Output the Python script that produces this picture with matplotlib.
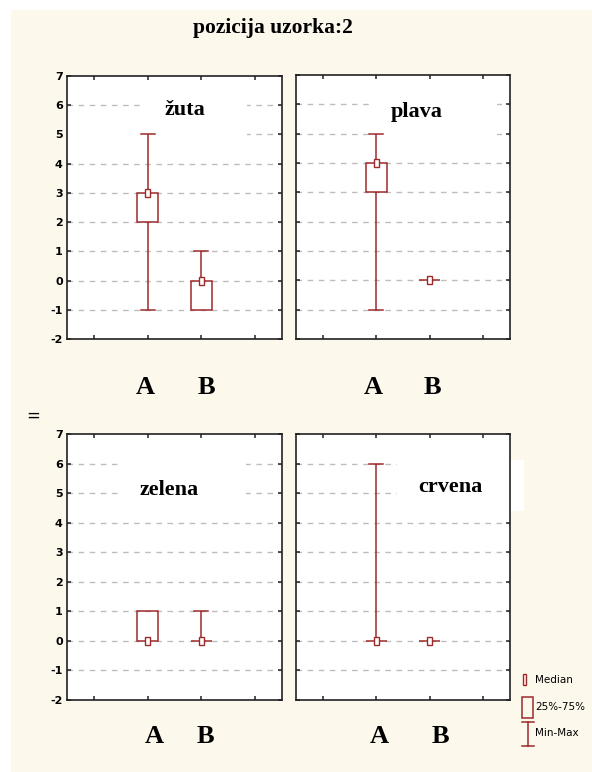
import matplotlib
matplotlib.use('Agg')
import matplotlib.pyplot as plt
import matplotlib.patches as mpatches
from matplotlib.lines import Line2D
from matplotlib import font_manager
import matplotlib.transforms as mtransforms

plt.rcParams['axes.unicode_minus'] = False

# --- data ---
title = 'pozicija uzorka:2'
panel_names = ['žuta', 'plava', 'zelena', 'crvena']
groups = ['A', 'B']
group_x = [1.5, 2.5]

# per panel: [A, B]
mins = [[-1, -1], [-1, 0], [0, 0], [0, 0]]
q25 = [[2, -1], [3, 0], [0, 0], [0, 0]]
medians = [[3, 0], [4, 0], [0, 0], [0, 0]]
q75 = [[3, 0], [4, 0], [1, 0], [0, 0]]
maxs = [[5, 1], [5, 0], [1, 1], [6, 0]]

y_ticks = list(range(-2, 8))
grid_levels = list(range(-1, 7))
x_ticks = [0.5, 1.5, 2.5, 3.5]

legend_labels = ['Median', '25%-75%', 'Min-Max']

# --- layout / style ---
W, H = 592, 772
RED = '#9c2a2c'
CREAM = '#fdf8ec'
SERIF = ['Liberation Serif', 'DejaVu Serif']

installed = {f.name for f in font_manager.fontManager.ttflist}
NARROW = [f for f in ['Liberation Sans Narrow', 'DejaVu Sans Condensed'] if f in installed] + ['DejaVu Sans']

# axes boxes in pixels: left, top, right, bottom
axes_px = [(67, 76, 282, 339), (296, 75, 510, 339),
           (67, 434, 282, 700), (296, 434, 510, 700)]
name_pos = [(0.549, 0.871), (0.565, 0.86), (0.474, 0.79), (0.72, 0.80)]
# white patches behind panel names (x0, x1, y0, y1 in data units)
masks = [[(1.41, 3.35, 4.6, 6.4), (0.0, 1.41, 4.7, 5.3)],
         [(1.42, 3.76, 4.6, 6.4)],
         [(0.99, 3.33, 4.6, 6.4)],
         [(1.89, 4.26, 4.4, 6.12)]]
group_label_y = [-0.183, -0.183, -0.139, -0.139]
group_dx = [[-0.05, 0.1], [-0.05, 0.05], [0.13, 0.08], [0.05, 0.2]]

BOX_W = 0.40
CAP_W = 0.26
MED_W = 0.095
MED_H = 0.27


def px_rect(l, t, r, b):
    return [l / W, 1 - b / H, (r - l) / W, (b - t) / H]


def draw_box(ax, x, lo, q1, med, q3, hi):
    # whiskers
    ax.plot([x, x], [lo, q1], color=RED, lw=1.1, zorder=3, solid_capstyle='butt')
    ax.plot([x, x], [q3, hi], color=RED, lw=1.1, zorder=3, solid_capstyle='butt')
    if hi > q3:
        ax.plot([x - CAP_W / 2, x + CAP_W / 2], [hi, hi], color=RED, lw=1.1, zorder=3)
    if lo < q1:
        ax.plot([x - CAP_W / 2, x + CAP_W / 2], [lo, lo], color=RED, lw=1.1, zorder=3)
    # 25-75 box
    ax.add_patch(mpatches.Rectangle((x - BOX_W / 2, q1), BOX_W, q3 - q1, fill=False,
                                    edgecolor=RED, lw=1.1, zorder=4))
    # median marker
    ax.add_patch(mpatches.Rectangle((x - MED_W / 2, med - MED_H / 2), MED_W, MED_H,
                                    facecolor='white', edgecolor=RED, lw=1.0, zorder=5))


fig = plt.figure(figsize=(W / 100, H / 100), dpi=100)
fig.patch.set_facecolor('white')
fig.patches.append(mpatches.Rectangle((11 / W, 0), 1 - 11 / W, 1 - 10 / H,
                                      transform=fig.transFigure, facecolor=CREAM,
                                      edgecolor='none', zorder=-10))

fig.text(273 / W, 1 - 28 / H, title, ha='center', va='center', fontsize=15.5,
         fontweight='bold', family=SERIF)
fig.text(33 / W, 1 - 416 / H, '=', ha='center', va='center', fontsize=12, family=NARROW)

for i, name in enumerate(panel_names):
    ax = fig.add_axes(px_rect(*axes_px[i]))
    ax.set_facecolor('white')
    ax.set_xlim(0, 4)
    ax.set_ylim(-2, 7)
    ax.set_xticks(x_ticks)
    ax.set_yticks(y_ticks)
    for s in ax.spines.values():
        s.set_linewidth(1.2)
        s.set_color('#222222')
    ax.tick_params(direction='in', length=3, width=1.1, top=True, right=True,
                   labelbottom=False, labelleft=(i % 2 == 0), labelsize=8, pad=3,
                   color='#222222')
    for lab in ax.get_yticklabels():
        lab.set_family(NARROW)
        lab.set_fontweight('bold')

    for g in grid_levels:
        ax.axhline(g, color='#bdbdbd', lw=1.0, dashes=(4, 4), zorder=1)
    for (x0, x1, y0, y1) in masks[i]:
        ax.add_patch(mpatches.Rectangle((x0, y0), x1 - x0, y1 - y0, facecolor='white',
                                        edgecolor='none', zorder=2, clip_on=False))

    for j in range(len(groups)):
        draw_box(ax, group_x[j], mins[i][j], q25[i][j], medians[i][j], q75[i][j], maxs[i][j])

    ax.text(name_pos[i][0], name_pos[i][1], name, transform=ax.transAxes, ha='center',
            va='center', fontsize=16, fontweight='bold', family=SERIF, zorder=6)

    trans = mtransforms.blended_transform_factory(ax.transData, ax.transAxes)
    for j, g in enumerate(groups):
        ax.text(group_x[j] + group_dx[i][j], group_label_y[i], g, transform=trans,
                ha='center', va='center', fontsize=19, fontweight='bold', family=SERIF,
                clip_on=False)

# legend (drawn by hand like the original)
def fx(x):
    return x / W


def fy(y):
    return 1 - y / H


fig.patches.append(mpatches.Rectangle((fx(523), fy(685)), fx(526) - fx(523), fy(674) - fy(685),
                                      transform=fig.transFigure, fill=False, edgecolor=RED, lw=1.0))
fig.patches.append(mpatches.Rectangle((fx(522), fy(718)), fx(533) - fx(522), fy(697) - fy(718),
                                      transform=fig.transFigure, fill=False, edgecolor=RED, lw=1.1))
fig.lines.append(Line2D([fx(528), fx(528)], [fy(722), fy(746)], transform=fig.transFigure,
                        color=RED, lw=1.1))
for yy in (722, 746):
    fig.lines.append(Line2D([fx(522), fx(534)], [fy(yy), fy(yy)], transform=fig.transFigure,
                            color=RED, lw=1.1))
for lab, yy in zip(legend_labels, (680, 707, 733)):
    fig.text(fx(535), fy(yy), lab, ha='left', va='center', fontsize=7.5, family=NARROW)

fig.savefig('out.png', dpi=100)
